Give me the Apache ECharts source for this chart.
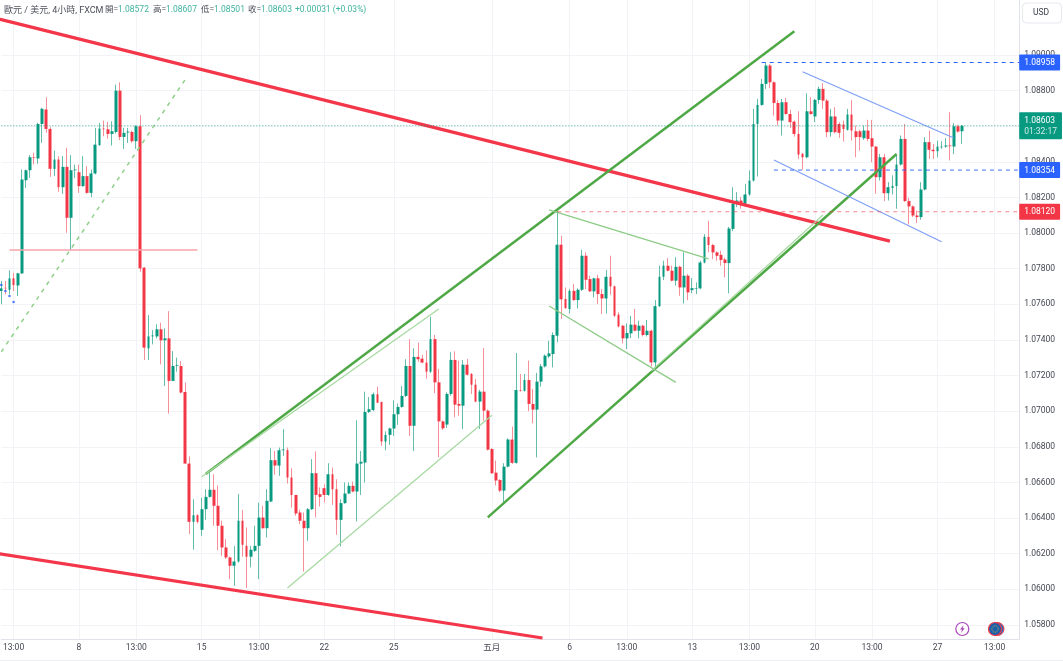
<!DOCTYPE html>
<html lang="zh-Hant">
<head>
<meta charset="UTF-8">
<title>EUR/USD 4H</title>
<style>
html,body{margin:0;padding:0;background:#fff;overflow:hidden}
#chart{width:1063px;height:661px}
</style>
</head>
<body>
<div id="chart"></div>
<script src="https://cdn.jsdelivr.net/npm/echarts@6/dist/echarts.min.js"></script>
<script>
var opens=[
1.07675,1.07693,1.07682,1.07746,1.07706,1.07774,1.08297,1.08353,1.08426,1.08419,
1.08613,1.08694,1.08585,1.08361,1.08413,1.08258,1.08372,1.08086,1.08353,1.08342,
1.08264,1.08320,1.08226,1.08335,1.08494,1.08587,1.08583,1.08557,1.08568,1.08800,
1.08540,1.08565,1.08568,1.08516,1.08600,1.07806,1.07353,1.07420,1.07420,1.07460,
1.07398,1.07409,1.07170,1.07254,1.07254,1.07108,1.06706,1.06379,1.06416,1.06334,
1.06450,1.06519,1.06559,1.06469,1.06357,1.06235,1.06179,1.06132,1.06156,1.06385,
1.06244,1.06183,1.06216,1.06244,1.06403,1.06343,1.06493,1.06725,1.06695,1.06781,
1.06781,1.06628,1.06530,1.06431,1.06385,1.06343,1.06450,1.06652,1.06534,1.06568,
1.06530,1.06646,1.06562,1.06390,1.06484,1.06538,1.06581,1.06549,1.06706,1.06712,
1.06996,1.07007,1.07095,1.07052,1.06830,1.06867,1.06903,1.06983,1.07024,1.07086,
1.07254,1.06918,1.07305,1.07295,1.07273,1.07222,1.07405,1.07162,1.06943,1.06925,
1.07097,1.07288,1.07041,1.07031,1.07261,1.07209,1.07149,1.07054,1.07110,1.07003,
1.06788,1.06655,1.06614,1.06554,1.06689,1.06841,1.06710,1.07119,1.07115,1.07175,
1.07041,1.07009,1.07166,1.07252,1.07308,1.07321,1.07424,1.07935,1.07630,1.07574,
1.07676,1.07624,1.07682,1.07873,1.07742,1.07673,1.07746,1.07658,1.07633,1.07755,
1.07701,1.07542,1.07480,1.07409,1.07437,1.07486,1.07452,1.07480,1.07428,1.07452,
1.07274,1.07590,1.07755,1.07817,1.07789,1.07733,1.07811,1.07695,1.07761,1.07680,
1.07688,1.07690,1.07835,1.07979,1.07933,1.07892,1.07878,1.07852,1.07832,1.08024,
1.08165,1.08183,1.08165,1.08217,1.08295,1.08613,1.08720,1.08838,1.08941,1.08847,
1.08731,1.08632,1.08735,1.08669,1.08626,1.08557,1.08445,1.08426,1.08684,1.08655,
1.08748,1.08810,1.08744,1.08567,1.08655,1.08613,1.08610,1.08580,1.08666,1.08572,
1.08572,1.08533,1.08576,1.08533,1.08486,1.08314,1.08426,1.08224,1.08254,1.08264,
1.08385,1.08529,1.08180,1.08150,1.08099,1.08090,1.08245,1.08511,1.08468,1.08460,
1.08482,1.08486,1.08492,1.08486,1.08600,1.08572];
var closes=[
1.07690,1.07690,1.07746,1.07708,1.07774,1.08301,1.08353,1.08426,1.08423,1.08613,
1.08698,1.08585,1.08361,1.08413,1.08258,1.08372,1.08086,1.08353,1.08357,1.08264,
1.08320,1.08226,1.08335,1.08497,1.08587,1.08583,1.08557,1.08572,1.08800,1.08540,
1.08563,1.08570,1.08516,1.08600,1.07802,1.07357,1.07420,1.07426,1.07460,1.07398,
1.07409,1.07170,1.07254,1.07258,1.07105,1.06706,1.06379,1.06416,1.06379,1.06450,
1.06519,1.06559,1.06469,1.06357,1.06235,1.06179,1.06132,1.06156,1.06385,1.06250,
1.06183,1.06222,1.06244,1.06403,1.06343,1.06497,1.06725,1.06695,1.06781,1.06785,
1.06628,1.06530,1.06426,1.06385,1.06343,1.06450,1.06652,1.06530,1.06519,1.06530,
1.06646,1.06562,1.06390,1.06484,1.06538,1.06581,1.06549,1.06706,1.06716,1.06996,
1.07011,1.07095,1.07048,1.06830,1.06867,1.06903,1.06983,1.07024,1.07086,1.07254,
1.06918,1.07305,1.07292,1.07273,1.07222,1.07405,1.07162,1.06943,1.06904,1.07097,
1.07288,1.07037,1.07031,1.07261,1.07205,1.07149,1.07054,1.07110,1.07003,1.06784,
1.06652,1.06611,1.06554,1.06689,1.06841,1.06710,1.07119,1.07115,1.07175,1.07041,
1.07009,1.07166,1.07252,1.07312,1.07325,1.07428,1.07935,1.07628,1.07579,1.07676,
1.07624,1.07682,1.07873,1.07738,1.07673,1.07746,1.07658,1.07633,1.07755,1.07701,
1.07536,1.07476,1.07409,1.07439,1.07486,1.07452,1.07480,1.07428,1.07452,1.07274,
1.07590,1.07755,1.07817,1.07789,1.07733,1.07811,1.07695,1.07761,1.07667,1.07691,
1.07691,1.07835,1.07979,1.07933,1.07892,1.07873,1.07849,1.07832,1.08026,1.08165,
1.08183,1.08165,1.08217,1.08295,1.08613,1.08720,1.08838,1.08941,1.08847,1.08731,
1.08632,1.08735,1.08669,1.08623,1.08557,1.08441,1.08426,1.08684,1.08669,1.08748,
1.08810,1.08744,1.08567,1.08655,1.08567,1.08563,1.08585,1.08666,1.08576,1.08539,
1.08539,1.08576,1.08529,1.08486,1.08314,1.08426,1.08224,1.08258,1.08264,1.08385,
1.08529,1.08180,1.08150,1.08099,1.08090,1.08245,1.08511,1.08468,1.08460,1.08486,
1.08486,1.08492,1.08488,1.08600,1.08570,1.08603];
var highs=[
1.07731,1.07731,1.07791,1.07777,1.07777,1.08357,1.08357,1.08438,1.08451,1.08619,
1.08703,1.08763,1.08595,1.08464,1.08432,1.08432,1.08479,1.08438,1.08385,1.08385,
1.08432,1.08376,1.08357,1.08591,1.08619,1.08632,1.08625,1.08628,1.08834,1.08847,
1.08591,1.08591,1.08576,1.08606,1.08662,1.07809,1.07540,1.07456,1.07488,1.07497,
1.07465,1.07562,1.07338,1.07301,1.07282,1.07161,1.06747,1.06506,1.06422,1.06515,
1.06562,1.06652,1.06646,1.06583,1.06385,1.06282,1.06183,1.06244,1.06534,1.06446,
1.06347,1.06244,1.06357,1.06487,1.06469,1.06562,1.06792,1.06777,1.06796,1.06899,
1.06796,1.06680,1.06530,1.06446,1.06431,1.06456,1.06731,1.06774,1.06572,1.06590,
1.06708,1.06684,1.06618,1.06506,1.06600,1.06600,1.06605,1.06949,1.06777,1.07110,
1.07080,1.07105,1.07138,1.07054,1.06887,1.06908,1.07062,1.07043,1.07142,1.07292,
1.07404,1.07353,1.07385,1.07316,1.07342,1.07531,1.07428,1.07237,1.06947,1.07106,
1.07331,1.07336,1.07284,1.07288,1.07293,1.07215,1.07181,1.07120,1.07355,1.07010,
1.06792,1.06723,1.06618,1.06708,1.06848,1.06914,1.07327,1.07209,1.07209,1.07284,
1.07125,1.07215,1.07265,1.07318,1.07396,1.07443,1.08125,1.07985,1.07695,1.07686,
1.07714,1.07690,1.07906,1.07892,1.07761,1.07750,1.07766,1.07686,1.07792,1.07873,
1.07705,1.07555,1.07485,1.07493,1.07536,1.07574,1.07508,1.07486,1.07512,1.07458,
1.07624,1.07817,1.07845,1.07860,1.07817,1.07865,1.07817,1.07892,1.07770,1.07748,
1.07723,1.07845,1.07994,1.08069,1.07940,1.07897,1.07901,1.07863,1.08035,1.08258,
1.08230,1.08202,1.08277,1.08352,1.08698,1.08754,1.08866,1.08959,1.08950,1.08852,
1.08748,1.08754,1.08759,1.08692,1.08632,1.08684,1.08450,1.08785,1.08763,1.08754,
1.08823,1.08842,1.08754,1.08698,1.08707,1.08623,1.08632,1.08698,1.08748,1.08604,
1.08580,1.08604,1.08636,1.08636,1.08490,1.08445,1.08445,1.08286,1.08324,1.08441,
1.08548,1.08613,1.08198,1.08155,1.08127,1.08286,1.08539,1.08576,1.08501,1.08520,
1.08516,1.08533,1.08679,1.08617,1.08608,1.08607];
var lows=[
1.07600,1.07656,1.07656,1.07675,1.07647,1.07770,1.08254,1.08310,1.08385,1.08389,
1.08507,1.08563,1.08316,1.08320,1.08232,1.08221,1.08002,1.07903,1.08310,1.08226,
1.08260,1.08221,1.08202,1.08330,1.08490,1.08544,1.08531,1.08492,1.08560,1.08522,
1.08473,1.08507,1.08507,1.08473,1.07783,1.07288,1.07288,1.07375,1.07409,1.07263,
1.07142,1.06987,1.07170,1.07222,1.07100,1.06706,1.06310,1.06222,1.06370,1.06300,
1.06390,1.06515,1.06357,1.06220,1.06188,1.06170,1.06057,1.06020,1.06150,1.06183,
1.06007,1.06123,1.06210,1.06057,1.06340,1.06291,1.06490,1.06643,1.06637,1.06749,
1.06594,1.06459,1.06413,1.06366,1.06100,1.06272,1.06445,1.06403,1.06465,1.06487,
1.06525,1.06474,1.06306,1.06241,1.06480,1.06535,1.06545,1.06381,1.06530,1.06600,
1.06990,1.07000,1.07045,1.06805,1.06781,1.06811,1.06861,1.06923,1.07020,1.07080,
1.06861,1.06777,1.07277,1.07270,1.07183,1.07215,1.07101,1.06741,1.06895,1.06906,
1.07087,1.06966,1.06975,1.06900,1.07200,1.07097,1.07050,1.06900,1.06947,1.06780,
1.06648,1.06583,1.06545,1.06489,1.06685,1.06705,1.06705,1.07110,1.07110,1.07000,
1.06932,1.06741,1.07138,1.07246,1.07300,1.07246,1.07387,1.07518,1.07575,1.07549,
1.07620,1.07577,1.07675,1.07686,1.07670,1.07639,1.07602,1.07546,1.07549,1.07654,
1.07530,1.07470,1.07381,1.07349,1.07411,1.07448,1.07409,1.07420,1.07420,1.07252,
1.07237,1.07585,1.07736,1.07785,1.07730,1.07705,1.07648,1.07605,1.07624,1.07662,
1.07658,1.07685,1.07830,1.07892,1.07854,1.07845,1.07817,1.07751,1.07662,1.08011,
1.08146,1.08137,1.08160,1.08210,1.08290,1.08318,1.08715,1.08810,1.08813,1.08660,
1.08604,1.08548,1.08665,1.08591,1.08542,1.08417,1.08355,1.08420,1.08665,1.08623,
1.08726,1.08698,1.08539,1.08542,1.08560,1.08535,1.08514,1.08576,1.08520,1.08426,
1.08464,1.08524,1.08516,1.08398,1.08221,1.08295,1.08180,1.08183,1.08217,1.08137,
1.08380,1.08175,1.08049,1.08090,1.08056,1.08075,1.08240,1.08417,1.08417,1.08426,
1.08473,1.08479,1.08408,1.08445,1.08565,1.08501];

// x axis: 250 slots, the last 14 have no bars
var tickSlots=[3,19,33,49,63,79,96,120,139,153,169,183,199,213,229,243];
var tickLabels=['13:00','8','13:00','15','13:00','22','25','五月','6','13:00','13','13:00','20','13:00','27','13:00'];
var priceTicks=[1.058,1.06,1.062,1.064,1.066,1.068,1.07,1.072,1.074,1.076,1.078,1.08,1.082,1.084,1.086,1.088,1.09];

// drawn lines: [slot, price] pairs
var redUpper=[[0,1.09199],[217,1.07957]];
var redLower=[[0,1.06198],[132,1.05728]];
var greenUpper=[[50,1.06648],[194,1.09133]];
var greenLower=[[119,1.06404],[219,1.08444]];
var thinUpper=[[49,1.06632],[107,1.07574]];
var thinLower=[[70,1.06007],[120,1.06977]];
var wedgeUpper=[[134,1.08130],[173,1.07855]];
var wedgeLower=[[134,1.07591],[165,1.07162]];
var thinSupport=[[159,1.07225],[201,1.08102]];
var dashedRise=[[0,1.07333],[45,1.08863]];
var flatRed=[[2,1.07905],[48,1.07905]];
var blueUpper=[[196,1.08906],[233,1.08534]];
var blueLower=[[189,1.08411],[230,1.07952]];
var blueDots=[[0,1.07709],[1,1.07675],[2,1.07647],[3,1.07613]];

var lastPrice=1.08603, countdown='01:32:17';
var highLevel=1.08958, midLevel=1.08354, lowLevel=1.08120;

var headerTitle='歐元 / 美元, 4小時, FXCM';
var headerNames=['開=','高=','低=','收='];
var headerValues=['1.08572','1.08607','1.08501','1.08603'];
var headerChange='+0.00031 (+0.03%)';

var FONT='Roboto, "Noto Sans CJK TC", sans-serif';
var SIZE=8.5;
var UP='#089981', DOWN='#f23645';

var categories=[];
for(var i=0;i<250;i++){
	categories.push('');
}
for(var i=0;i<tickSlots.length;i++){
	categories[tickSlots[i]]=tickLabels[i];
}
function hasLabel(i,v){
	return v!=='';
}

var wickData=[], bodyData=[];
for(var i=0;i<opens.length;i++){
	wickData.push([opens[i],closes[i],lows[i],highs[i]]);
	bodyData.push([opens[i],closes[i],Math.min(opens[i],closes[i]),Math.max(opens[i],closes[i])]);
}

function trend(data,color,width,type,cap){
	return {
		type:'line',data:data,showSymbol:false,symbol:'none',clip:false,silent:true,z:5,
		lineStyle:{color:color,width:width,type:type||'solid',cap:cap||'butt'}
	};
}
// horizontal level with its tag on the price scale
function level(from,price,color,type,opacity,tagColor,text,rich){
	var s=trend([[from,price],[249,price]],color,1,type);
	s.lineStyle.opacity=opacity;
	s.z=6;
	s.endLabel={
		show:true,distance:0,backgroundColor:tagColor,color:'#fff',padding:[3,5,2,5],
		fontFamily:FONT,fontSize:SIZE,lineHeight:11,borderRadius:1,
		formatter:function(){return text;},rich:rich||{}
	};
	return s;
}
function headerText(x,text,color,size){
	return {type:'text',x:x,y:6,z:20,style:{text:text,fill:color,fontFamily:FONT,fontSize:size||SIZE}};
}

var greys='#4c4f59', headGreen='#3fb39e';
var graphics=[headerText(4,headerTitle,greys,9)];
var headX=[105,153,201,248];
for(var i=0;i<4;i++){
	graphics.push(headerText(headX[i],headerNames[i],greys));
	graphics.push(headerText(headX[i]+13,headerValues[i],headGreen));
}
graphics.push(headerText(295,headerChange,headGreen));
// currency button
graphics.push({type:'rect',z:20,shape:{x:1022.5,y:3,width:39,height:20,r:4},style:{fill:'#fff',stroke:'#e6e8ee',lineWidth:1}});
graphics.push({type:'text',x:1033,y:9,z:21,style:{text:'USD',fill:'#3c3f4a',fontFamily:FONT,fontSize:SIZE}});
// bottom edge of the window
graphics.push({type:'line',z:1,shape:{x1:0,y1:660.5,x2:1063,y2:660.5},style:{stroke:'#eceef2',lineWidth:1}});
// event badges
graphics.push({type:'circle',z:20,shape:{cx:962.3,cy:629,r:6.5},style:{fill:'#fff',stroke:'#ab47bc',lineWidth:1.2}});
graphics.push({type:'polygon',z:21,shape:{points:[[963.6,625],[960,629.6],[962,629.6],[961,633],[964.6,628.2],[962.6,628.2]]},style:{fill:'#ab47bc'}});
graphics.push({type:'circle',z:20,shape:{cx:997.5,cy:629,r:6.5},style:{fill:'#2a6fc4',stroke:'#f23645',lineWidth:1}});
graphics.push({type:'circle',z:21,shape:{cx:995,cy:629,r:6.5},style:{fill:'#1f5fa8',stroke:'#f23645',lineWidth:1.2}});
graphics.push({type:'circle',z:22,shape:{cx:995,cy:629,r:3.2},style:{fill:'none',stroke:'#d9c24a',lineWidth:0.8,lineDash:[1,1]}});

var myChart=echarts.init(document.getElementById('chart'));
myChart.setOption({
	animation:false,
	backgroundColor:'#fff',
	graphic:graphics,
	grid:{left:1,top:0,width:1018.2,height:639,containLabel:false},
	xAxis:{
		type:'category',data:categories,boundaryGap:false,
		axisLine:{lineStyle:{color:'#e0e3eb',width:1}},
		axisTick:{show:false},
		axisLabel:{interval:hasLabel,color:'#444752',fontFamily:FONT,fontSize:SIZE,margin:5,hideOverlap:false},
		splitLine:{show:true,interval:hasLabel,lineStyle:{color:'#f2f3f6',width:1}}
	},
	yAxis:{
		type:'value',position:'right',scale:true,min:1.05721,max:1.09309,
		axisLine:{show:true,lineStyle:{color:'#e0e3eb',width:1}},
		axisTick:{show:false,customValues:priceTicks},
		axisLabel:{
			customValues:priceTicks,color:'#444752',fontFamily:FONT,fontSize:SIZE,margin:5,
			formatter:function(v){return v.toFixed(5);}
		},
		splitLine:{show:true,lineStyle:{color:'#f2f3f6',width:1}}
	},
	series:[
		{
			type:'candlestick',data:wickData,barWidth:1,clip:false,silent:true,z:2,
			itemStyle:{color:'#62bdab',color0:'#f78f98',borderColor:'#62bdab',borderColor0:'#f78f98',borderWidth:1}
		},
		{
			type:'candlestick',data:bodyData,barWidth:3.3,clip:false,silent:true,z:3,
			itemStyle:{color:UP,color0:DOWN,borderColor:UP,borderColor0:DOWN,borderWidth:0}
		},
		{
			type:'scatter',data:blueDots,symbolSize:2.6,clip:false,silent:true,z:4,
			itemStyle:{color:'#2962ff'}
		},
		trend(redUpper,'#f4364a',3.2,'solid','square'),
		trend(redLower,'#f4364a',3.2,'solid','square'),
		trend(greenUpper,'#4ea845',2.5),
		trend(greenLower,'#4ea845',2.5),
		trend(thinUpper,'#a6d9a0',1.2),
		trend(thinLower,'#a6d9a0',1.2),
		trend(wedgeUpper,'#8ccb85',1.3),
		trend(wedgeLower,'#8ccb85',1.3),
		trend(thinSupport,'#a6d9a0',1.2),
		trend(dashedRise,'#8fd088',1.5,[4,5]),
		trend(flatRed,'#f7a3ab',1.5),
		trend(blueUpper,'#7d9ef5',1.1),
		trend(blueLower,'#7d9ef5',1.1),
		level(0,lastPrice,UP,[1,2],0.75,UP,'{a|'+lastPrice.toFixed(5)+'}\n{b|'+countdown+'}',{a:{color:'#fff',fontSize:SIZE,lineHeight:11,fontFamily:FONT},b:{color:'#cfeee7',fontSize:SIZE,lineHeight:11,fontFamily:FONT}}),
		level(186,highLevel,'#2962ff',[4,4],1,'#2962ff',highLevel.toFixed(5)),
		level(189,midLevel,'#2962ff',[4,4],0.9,'#2962ff',midLevel.toFixed(5)),
		level(136,lowLevel,DOWN,[4,4],0.6,DOWN,lowLevel.toFixed(5))
	]
});
</script>
</body>
</html>
